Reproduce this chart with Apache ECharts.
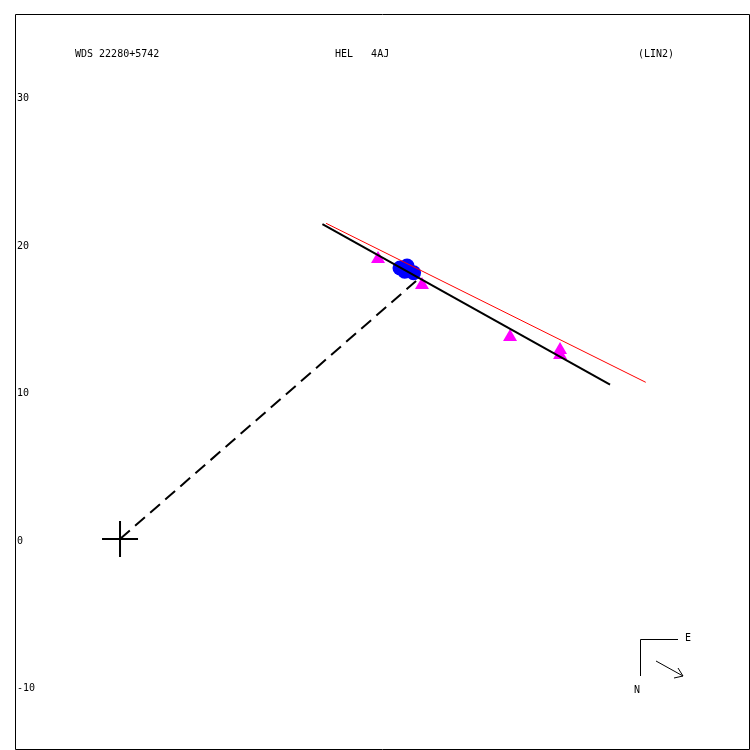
<!DOCTYPE html>
<html>
<head>
<meta charset="utf-8">
<script src="https://cdn.jsdelivr.net/npm/echarts@6/dist/echarts.min.js"></script>
<style>html,body{margin:0;padding:0;background:#fff;}#c{width:750px;height:750px;}</style>
</head>
<body>
<div id="c"></div>
<script>
// ---- data (arcsec-like units, origin at primary) ----
var yTickValues = [-10, 0, 10, 20, 30];
var primaryStar = [[0, 0]];
var orbitFitLine = [[13.72, 21.34], [33.22, 10.46]];
var redLine = [[13.97, 21.40], [35.64, 10.62]];
var dashedLink = [[0, 0], [20.07, 17.49]];
var triangleObs = [[17.49, 19.12], [20.47, 17.36], [26.44, 13.83], [29.83, 12.95], [29.83, 12.61]];
var circleObs = [[18.98, 18.37], [19.46, 18.50], [19.90, 18.05], [19.30, 18.15]];
var titleLeft = 'WDS 22280+5742';
var titleMid = 'HEL   4AJ';
var titleRight = '(LIN2)';

var FONT = 'DejaVu Sans Mono';
var chart = echarts.init(document.getElementById('c'), null, {renderer: 'canvas'});
var plusPath = 'path://M-1,-18 L1,-18 L1,-1 L18,-1 L18,1 L1,1 L1,18 L-1,18 L-1,1 L-18,1 L-18,-1 L-1,-1 Z';

chart.setOption({
  animation: false,
  backgroundColor: '#fff',
  grid: {left: 15, top: 14, width: 734, height: 735, show: false},
  xAxis: {type: 'value', min: -7.12, max: 42.64, show: false},
  yAxis: {
    type: 'value', min: -14.24, max: 35.59,
    axisLine: {show: false}, axisTick: {show: false}, splitLine: {show: false},
    axisLabel: {inside: true, margin: 2, customValues: yTickValues, fontSize: 10, fontFamily: FONT, color: '#000', verticalAlign: 'top', lineHeight: 4}
  },
  series: [
    {type: 'line', data: dashedLink, symbol: 'none', lineStyle: {color: '#000', width: 2, type: [13, 7]}, z: 2},
    {type: 'scatter', data: triangleObs, symbol: 'triangle', symbolSize: [14, 12], itemStyle: {color: '#ff00ff', opacity: 1}, z: 3},
    {type: 'scatter', data: circleObs, symbol: 'circle', symbolSize: 15, itemStyle: {color: '#0000ff', opacity: 1}, z: 4},
    {type: 'line', data: redLine, symbol: 'none', lineStyle: {color: '#ff0000', width: 1}, z: 5},
    {type: 'line', data: orbitFitLine, symbol: 'none', lineStyle: {color: '#000', width: 2}, z: 6},
    {type: 'scatter', data: primaryStar, symbol: plusPath, symbolSize: 36, itemStyle: {color: '#000', opacity: 1}, z: 7}
  ],
  graphic: [
    {type: 'rect', shape: {x: 15.5, y: 14.5, width: 734, height: 735}, style: {stroke: '#000', lineWidth: 1, fill: null}, z: 10},
    {type: 'text', left: 75, top: 49, style: {text: titleLeft, font: '10px ' + FONT, fill: '#000'}},
    {type: 'text', left: 335, top: 49, style: {text: titleMid, font: '10px ' + FONT, fill: '#000'}},
    {type: 'text', left: 638, top: 49, style: {text: titleRight, font: '10px ' + FONT, fill: '#000'}},
    {type: 'polyline', shape: {points: [[640.5, 676], [640.5, 639.5], [678, 639.5]]}, style: {stroke: '#000', lineWidth: 1, fill: null}},
    {type: 'text', left: 685, top: 633, style: {text: 'E', font: '10px ' + FONT, fill: '#000'}},
    {type: 'text', left: 634, top: 685, style: {text: 'N', font: '10px ' + FONT, fill: '#000'}},
    {type: 'line', shape: {x1: 656, y1: 661, x2: 683, y2: 676}, style: {stroke: '#000', lineWidth: 1}},
    {type: 'polyline', shape: {points: [[678, 668], [683, 676], [674, 678]]}, style: {stroke: '#000', lineWidth: 1, fill: null}}
  ]
});
</script>
</body>
</html>
